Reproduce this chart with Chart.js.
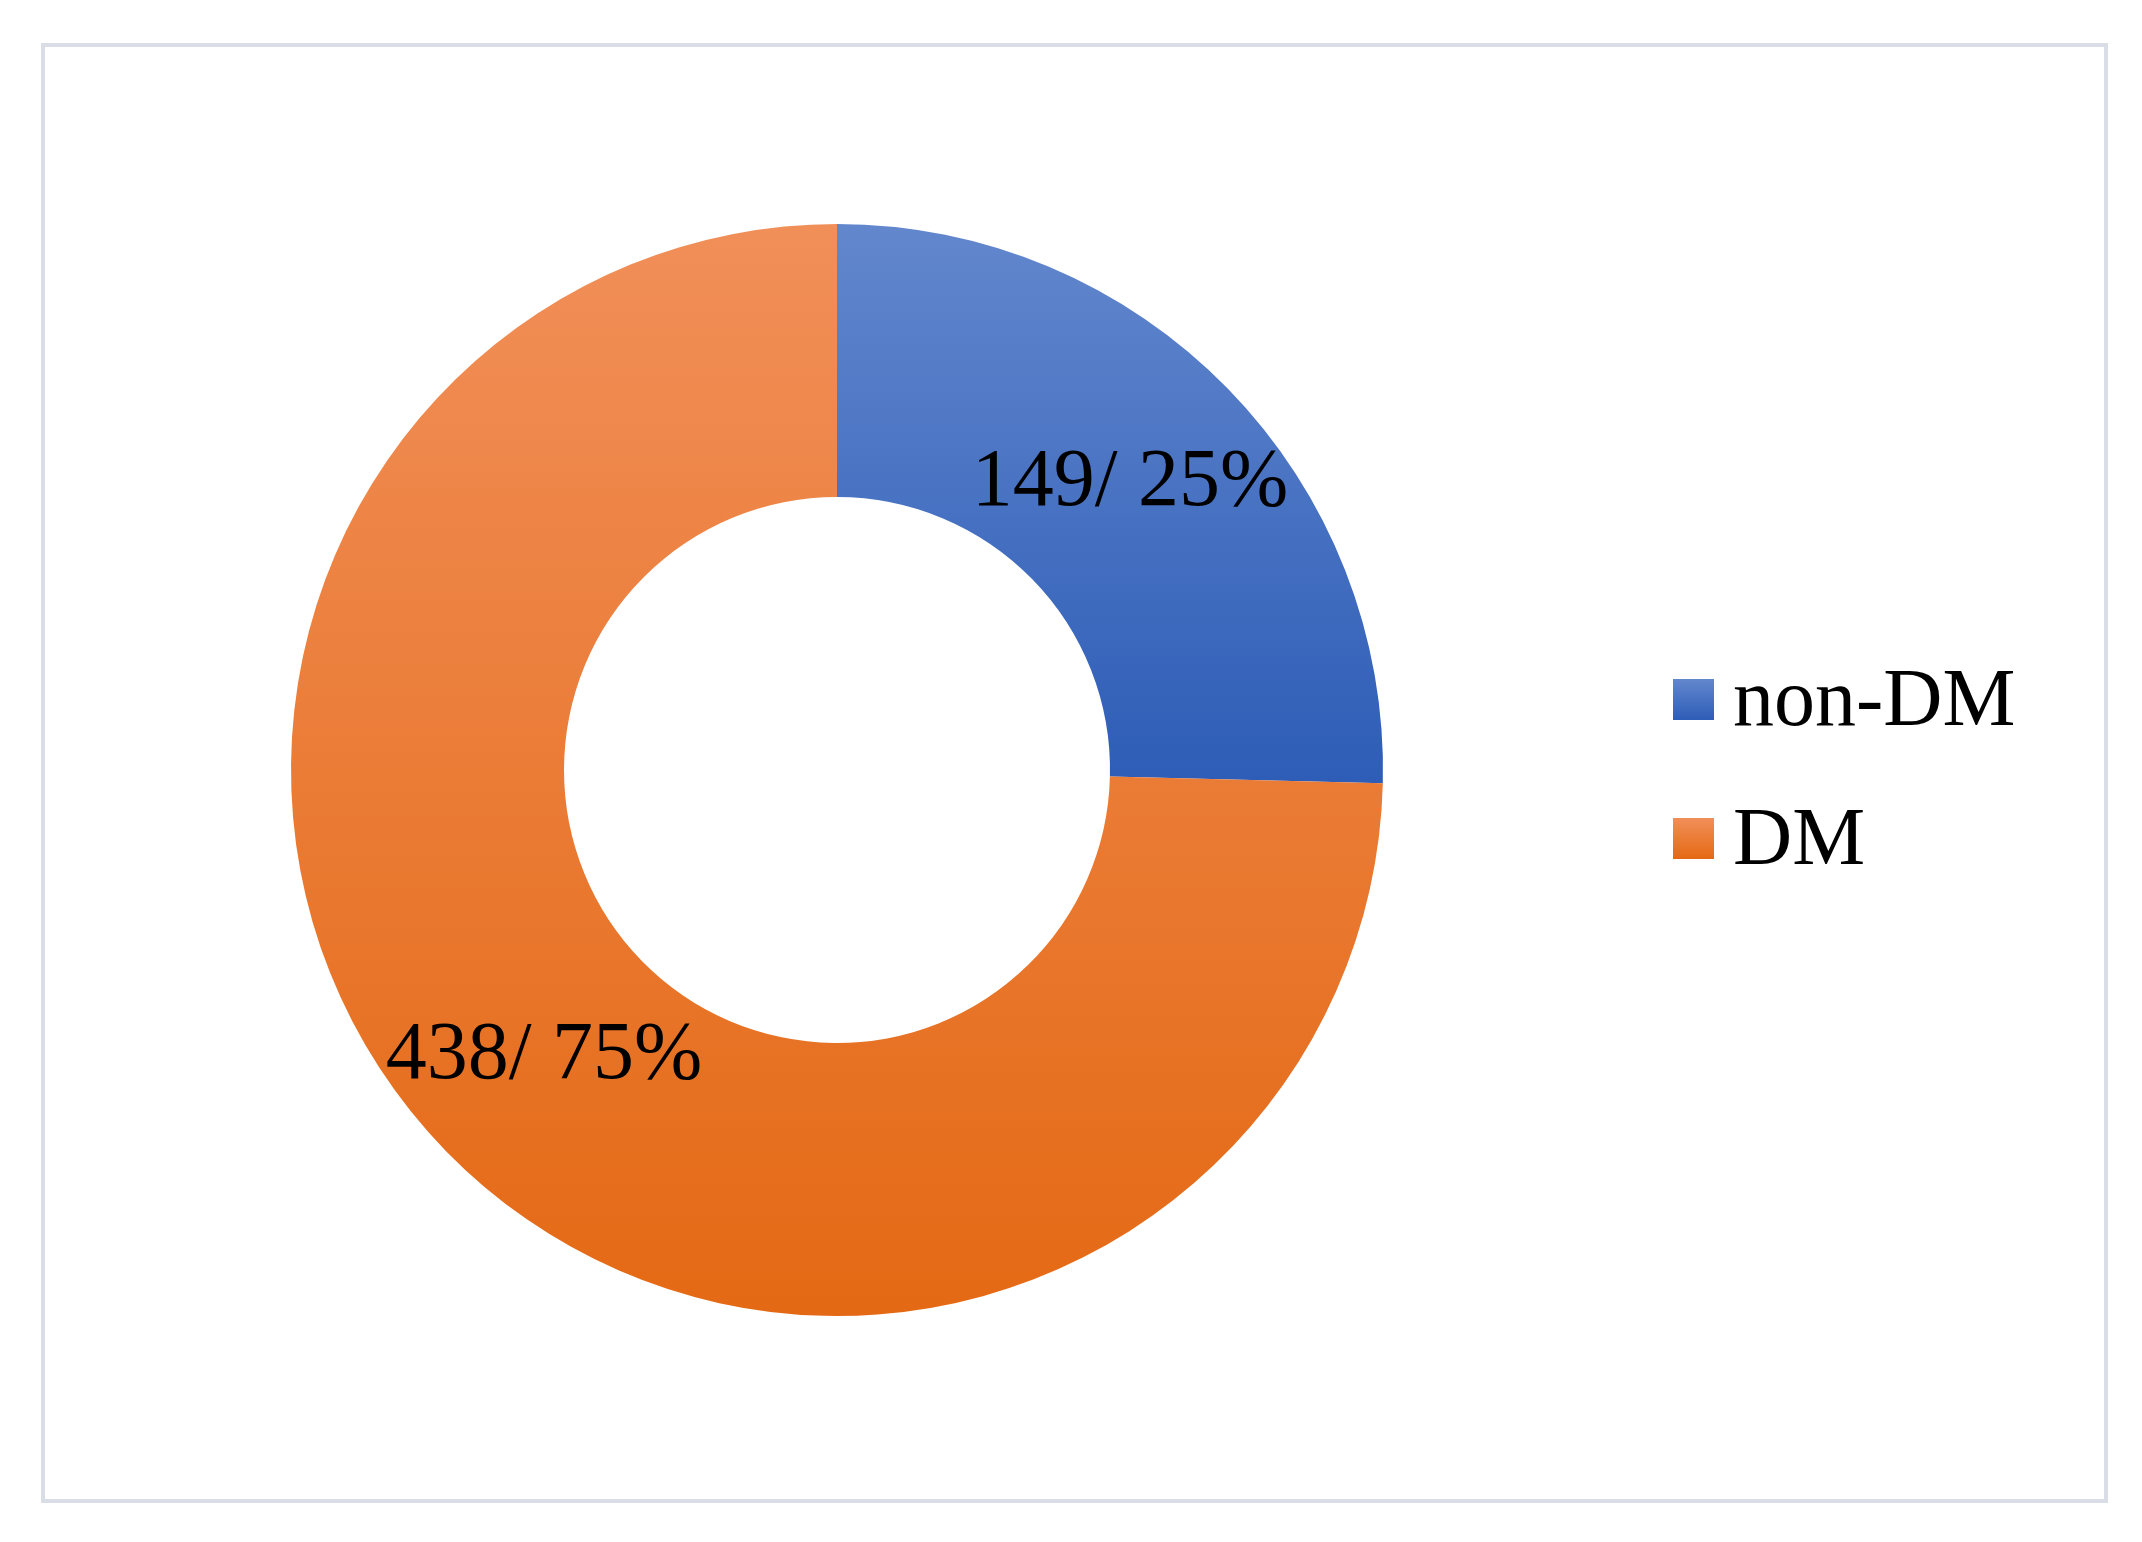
<!DOCTYPE html>
<html><head><meta charset="utf-8">
<script src="https://cdn.jsdelivr.net/npm/chart.js@4/dist/chart.umd.min.js"></script>
<style>
html,body{margin:0;padding:0;background:#fff;}
#wrap{position:relative;width:2142px;height:1542px;}
#frame{position:absolute;left:41px;top:43px;width:2059px;height:1452px;border:4px solid #D9DEE6;}
canvas{position:absolute;left:0;top:0;}
</style></head><body>
<div id="wrap"><div id="frame"></div><canvas id="c" width="2142" height="1542"></canvas></div>
<script>
const categories = ["non-DM", "DM"];
const values = [149, 438];
const percentLabels = ["25%", "75%"];
const gradStops = [["#6287CD", "#2E5DB7"], ["#F18F59", "#E46914"]];
const gradSpan = [0.51, 1.0]; // fraction of the chart height each slice's gradient covers

function grad(ctx, i) {
  const chart = ctx.chart, a = chart.chartArea;
  if (!a) return gradStops[i][1];
  const g = chart.ctx.createLinearGradient(0, a.top, 0, a.top + (a.bottom - a.top) * gradSpan[i]);
  g.addColorStop(0, gradStops[i][0]);
  g.addColorStop(1, gradStops[i][1]);
  return g;
}

const labelPlugin = {
  id: 'labels',
  afterDraw(chart) {
    const c = chart.ctx;
    const meta = chart.getDatasetMeta(0);
    c.save();
    c.font = '82px "Liberation Serif"';
    c.fillStyle = '#000';
    c.textAlign = 'center';
    c.textBaseline = 'middle';
    meta.data.forEach((arc, i) => {
      const p = arc.tooltipPosition();
      c.fillText(values[i] + '/ ' + percentLabels[i], p.x, p.y);
    });
    c.textAlign = 'left';
    c.textBaseline = 'alphabetic';
    const ys = [679, 818];
    categories.forEach((name, i) => {
      const g = c.createLinearGradient(0, ys[i], 0, ys[i] + 41);
      g.addColorStop(0, gradStops[i][0]); g.addColorStop(1, gradStops[i][1]);
      c.fillStyle = g;
      c.fillRect(1673, ys[i], 41, 41);
      c.fillStyle = '#000';
      c.fillText(name, 1733, ys[i] + 46);
    });
    c.restore();
  }
};

new Chart(document.getElementById('c'), {
  type: 'doughnut',
  data: {
    labels: categories,
    datasets: [{
      data: values,
      backgroundColor: (ctx) => grad(ctx, ctx.dataIndex),
      borderWidth: 0
    }]
  },
  options: {
    responsive: false,
    animation: false,
    cutout: '50%',
    layout: { padding: { left: 291, top: 224, bottom: 226, right: 2142 - 837 - 546 } },
    plugins: { legend: { display: false }, tooltip: { enabled: false } }
  },
  plugins: [labelPlugin]
});
</script>
</body></html>
